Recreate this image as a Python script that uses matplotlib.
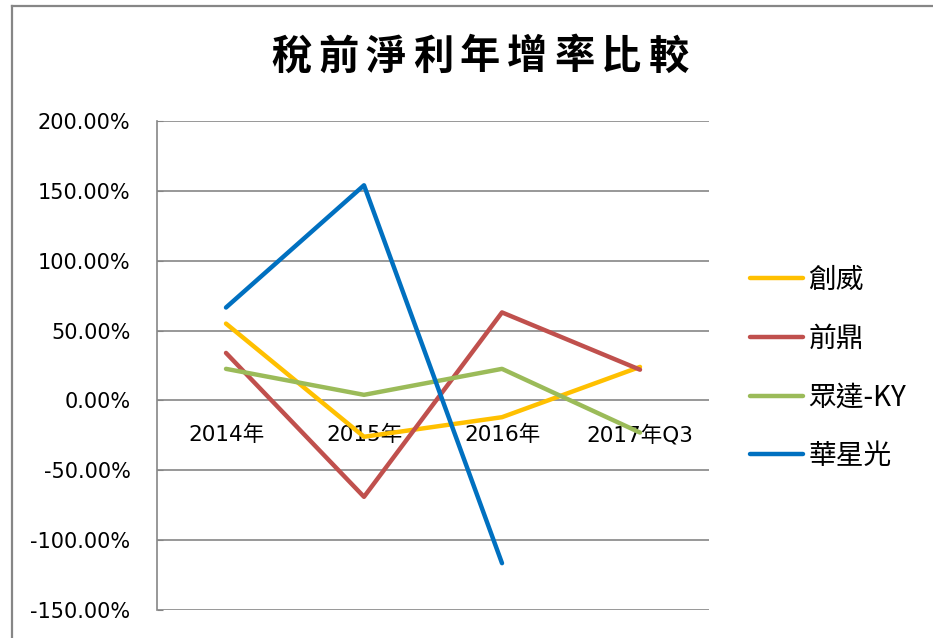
import matplotlib
matplotlib.use("Agg")
import matplotlib.pyplot as plt
from matplotlib.lines import Line2D
from matplotlib.ticker import FuncFormatter, MultipleLocator

plt.rcParams['font.family'] = ['Noto Sans CJK TC', 'DejaVu Sans']

# data (growth rate, %)
categories = ["2014年", "2015年", "2016年", "2017年Q3"]
chuangwei = [55.0, -26.0, -12.0, 24.0]
qianding = [34.0, -69.0, 63.0, 22.0]
zhongda = [22.6, 4.0, 22.6, -23.0]
huaxingguang = [66.5, 154.0, -116.5, None]

series_names = ["創威", "前鼎", "眾達-KY", "華星光"]
series_colors = ["#FFC000", "#C0504D", "#9BBB59", "#0070C0"]
title = "稅前淨利年增率比較"

W, H = 933, 638
fig = plt.figure(figsize=(W / 100, H / 100), dpi=100)
ax = fig.add_axes([157 / W, (H - 610) / H, (709 - 157) / W, (610 - 121) / H])

x = list(range(len(categories)))
for name, vals, col in zip(series_names, [chuangwei, qianding, zhongda, huaxingguang], series_colors):
    xs = [i for i, v in zip(x, vals) if v is not None]
    ys = [v for v in vals if v is not None]
    ax.plot(xs, ys, color=col, lw=3.2, label=name, solid_capstyle='round', zorder=3)

ax.set_xlim(-0.5, len(categories) - 0.5)
ax.set_ylim(-150, 200)
ax.yaxis.set_major_locator(MultipleLocator(50))
ax.yaxis.set_major_formatter(FuncFormatter(lambda v, p: f"{v:.2f}%"))
ax.grid(axis='y', color='#868686', lw=1.2)
ax.set_axisbelow(True)
for s in ['top', 'right', 'bottom']:
    ax.spines[s].set_visible(False)
ax.spines['left'].set_color('#868686')
ax.spines['left'].set_linewidth(1.2)
ax.tick_params(axis='y', direction='in', length=4, color='#868686', labelsize=15, pad=19)
ax.set_xticks([])
for lbl in ax.get_yticklabels():
    lbl.set_family(['DejaVu Sans'])

# category labels sit just under the zero line
for i, c in enumerate(categories):
    ax.text(i, -25, c, ha='center', va='center', fontsize=15.5, zorder=2,
            family=['DejaVu Sans', 'Noto Sans CJK TC'])

# spaced-out title, one character at a time
t_left, t_right = 268 / W, 692 / W
step = (t_right - t_left) / len(title)
for i, ch in enumerate(title):
    fig.text(t_left + step * (i + 0.5), 1 - 57 / H, ch, ha='center', va='center',
             fontsize=29, fontweight='bold')

leg = fig.legend(loc='center left', bbox_to_anchor=(750 / W, 1 - 368 / H), frameon=False,
                 fontsize=20, handlelength=1.9, handletextpad=0.2, labelspacing=1.03,
                 borderaxespad=0, borderpad=0)
for t in leg.get_texts():
    t.set_family(['Noto Sans CJK TC', 'DejaVu Sans'])

# outer chart border (top and left)
fig.add_artist(Line2D([12 / W, 1], [1 - 6 / H, 1 - 6 / H], color='#868686', lw=1.6))
fig.add_artist(Line2D([12 / W, 12 / W], [0, 1 - 6 / H], color='#868686', lw=1.6))

fig.savefig("out.png", dpi=100)
